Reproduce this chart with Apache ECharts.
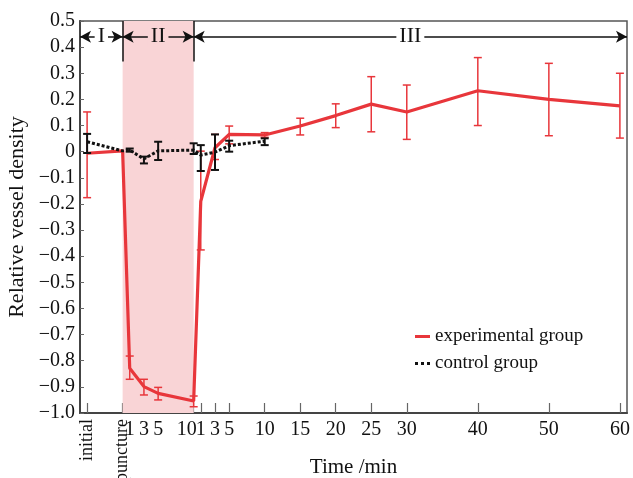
<!DOCTYPE html>
<html>
<head>
<meta charset="utf-8">
<script src="https://cdn.jsdelivr.net/npm/echarts@6/dist/echarts.min.js"></script>
<style>
html,body{margin:0;padding:0;background:#fff;}
#chart{width:633px;height:478px;}
</style>
</head>
<body>
<div id="chart"></div>
<script>
// x positions: initial=-5, puncture=0, phase II minutes 1..10, phase III minute m -> 10+m
var tickPos = [-5, 0, 1, 3, 5, 10, 11, 13, 15, 20, 25, 30, 35, 40, 50, 60, 70];
var tickLabels = ['initial', 'puncture', '1', '3', '5', '10', '1', '3', '5', '10', '15', '20', '25', '30', '40', '50', '60'];

// experimental group
var expX = [-5, 0, 1, 3, 5, 10, 11, 13, 15, 20, 25, 30, 35, 40, 50, 60, 70];
var expMean = [-0.006, 0.003, -0.829, -0.899, -0.925, -0.954, -0.19, 0.015, 0.066, 0.064, 0.098, 0.138, 0.182, 0.152, 0.233, 0.2, 0.175];
var expHigh = [0.152, null, -0.782, -0.871, -0.902, -0.935, 0.002, 0.066, 0.098, 0.073, 0.128, 0.183, 0.287, 0.255, 0.36, 0.338, 0.30];
var expLow = [-0.176, null, -0.871, -0.931, -0.95, -0.976, -0.376, -0.03, 0.03, 0.055, 0.064, 0.092, 0.076, 0.047, 0.10, 0.061, 0.052];

// control group
var ctlX = [-5, 0, 1, 3, 5, 10, 11, 13, 15, 20];
var ctlMean = [0.038, 0.003, 0.006, -0.028, 0.003, 0.006, -0.013, -0.002, 0.023, 0.04];
var ctlHigh = [0.068, null, 0.012, -0.019, 0.038, 0.032, 0.025, 0.066, 0.042, 0.051];
var ctlLow = [-0.005, null, 0.0, -0.045, -0.032, -0.009, -0.074, -0.07, 0.0, 0.025];

// phases: boundaries in x units
var phaseNames = ['I', 'II', 'III'];
var phaseFrom = [-6, 0, 10];
var phaseTo = [0, 10, 71];
var phaseBg = ['#fff', '#f9d4d6', '#fff'];

var serif = 'Liberation Serif';
var red = '#e8363b';
var pink = '#f9d4d6';

function zip(xs, ys) {
	var out = [];
	for (var i = 0; i < xs.length; i++) out.push([xs[i], ys[i]]);
	return out;
}
function errData(xs, lo, hi) {
	var out = [];
	for (var i = 0; i < xs.length; i++) {
		if (lo[i] == null) continue;
		out.push([xs[i], lo[i], hi[i]]);
	}
	return out;
}
function errRender(color, lw) {
	return function (params, api) {
		var x = api.value(0);
		var lo = api.coord([x, api.value(1)]);
		var hi = api.coord([x, api.value(2)]);
		var w = 4;
		var st = { stroke: color, lineWidth: lw };
		return {
			type: 'group',
			children: [
				{ type: 'line', shape: { x1: hi[0], y1: hi[1], x2: lo[0], y2: lo[1] }, style: st },
				{ type: 'line', shape: { x1: hi[0] - w, y1: hi[1], x2: hi[0] + w, y2: hi[1] }, style: st },
				{ type: 'line', shape: { x1: lo[0] - w, y1: lo[1], x2: lo[0] + w, y2: lo[1] }, style: st }
			]
		};
	};
}

var phaseLines = [];
for (var i = 0; i < phaseNames.length; i++) {
	phaseLines.push([
		{
			coord: [phaseFrom[i], 0.44],
			label: {
				show: true, position: 'middle', formatter: phaseNames[i], distance: 0,
				verticalAlign: 'middle', color: '#111', fontFamily: serif, fontSize: 22,
				backgroundColor: phaseBg[i], padding: [0, 3]
			}
		},
		{ coord: [phaseTo[i], 0.44] }
	]);
}
// vertical separators
phaseLines.push([{ coord: [0, 0.5], symbol: 'none', label: { show: false } }, { coord: [0, 0.345], symbol: 'none' }]);
phaseLines.push([{ coord: [10, 0.5], symbol: 'none', label: { show: false } }, { coord: [10, 0.345], symbol: 'none' }]);

var chart = echarts.init(document.getElementById('chart'));
var option = {
	animation: false,
	textStyle: { fontFamily: serif },
	grid: {
		left: 80, right: 6, top: 21, bottom: 65,
		outerBoundsMode: 'none', containLabel: false,
		show: true, borderColor: '#555', borderWidth: 1.5
	},
	legend: {
		orient: 'vertical',
		left: 410, top: 322,
		itemWidth: 15, itemHeight: 3, itemGap: 8,
		data: [
			{ name: 'experimental group', icon: 'rect' },
			{ name: 'control group', icon: 'path://M0,0h2v2h-2zM4,0h2v2h-2zM8,0h2v2h-2z' }
		],
		textStyle: { fontFamily: serif, fontSize: 19, color: '#111' }
	},
	xAxis: [{
		type: 'value', min: -6, max: 71,
		name: 'Time /min', nameLocation: 'middle', nameGap: 44,
		nameTextStyle: { fontFamily: serif, fontSize: 21, color: '#111' },
		axisLine: { onZero: false, lineStyle: { color: '#444', width: 2 } },
		axisTick: { show: true, inside: true, length: 10, lineStyle: { color: '#666', width: 1.2 }, customValues: tickPos },
		splitLine: { show: false },
		axisLabel: {
			margin: 7, fontFamily: serif, fontSize: 20, color: '#111',
			customValues: tickPos.slice(2),
			formatter: function (v) {
				var idx = tickPos.indexOf(v);
				if (v === 10) return '{l|' + tickLabels[idx] + '}';
				return tickLabels[idx];
			},
			rich: { l: { fontFamily: serif, fontSize: 20, color: '#111', padding: [0, 14, 0, 0] } }
		}
	}, {
		type: 'value', min: -6, max: 71, position: 'bottom',
		axisLine: { show: false, onZero: false }, axisTick: { show: false }, splitLine: { show: false },
		axisLabel: {
			rotate: 90, margin: 6, fontFamily: serif, fontSize: 18, color: '#111',
			customValues: tickPos.slice(0, 2),
			formatter: function (v) { return tickLabels[tickPos.indexOf(v)]; }
		}
	}],
	yAxis: {
		type: 'value', min: -1, max: 0.5, interval: 0.1,
		name: 'Relative vessel density', nameLocation: 'middle', nameGap: 50,
		nameTextStyle: { fontFamily: serif, fontSize: 22, color: '#111' },
		axisLine: { show: true, onZero: false, lineStyle: { color: '#444', width: 2 } },
		axisTick: { show: true, inside: true, length: 4, lineStyle: { color: '#666' } },
		splitLine: { show: false },
		axisLabel: {
			margin: 5, fontFamily: serif, fontSize: 20, color: '#111',
			formatter: function (v) {
				if (Math.abs(v) < 1e-9) return '0';
				return (v < 0 ? '\u2212' : '') + Math.abs(v).toFixed(1);
			}
		}
	},
	series: [{
		name: 'phaseArea', type: 'line', data: [], z: 1, silent: true,
		markArea: { silent: true, itemStyle: { color: pink }, data: [[{ xAxis: 0 }, { xAxis: 10 }]] }
	}, {
		name: 'phaseLine', type: 'line', data: [], z: 2, silent: true,
		markLine: {
			silent: true, symbol: ['arrow', 'arrow'], symbolSize: [9, 11],
			lineStyle: { color: '#111', width: 1.5, type: 'solid' },
			label: { show: false },
			data: phaseLines
		}
	}, {
		name: 'expErr', type: 'custom', z: 3, silent: true,
		renderItem: errRender(red, 1.5),
		encode: { x: 0, y: [1, 2] },
		data: errData(expX, expLow, expHigh)
	}, {
		name: 'experimental group', type: 'line', z: 4,
		showSymbol: false, symbol: 'none',
		lineStyle: { color: red, width: 3.2 }, itemStyle: { color: red },
		data: zip(expX, expMean)
	}, {
		name: 'ctlErr', type: 'custom', z: 5, silent: true,
		renderItem: errRender('#111', 2),
		encode: { x: 0, y: [1, 2] },
		data: errData(ctlX, ctlLow, ctlHigh)
	}, {
		name: 'control group', type: 'line', z: 6,
		showSymbol: false, symbol: 'none',
		lineStyle: { color: '#111', width: 3, type: [3, 2] }, itemStyle: { color: '#111' },
		data: zip(ctlX, ctlMean)
	}]
};
chart.setOption(option);
</script>
</body>
</html>
